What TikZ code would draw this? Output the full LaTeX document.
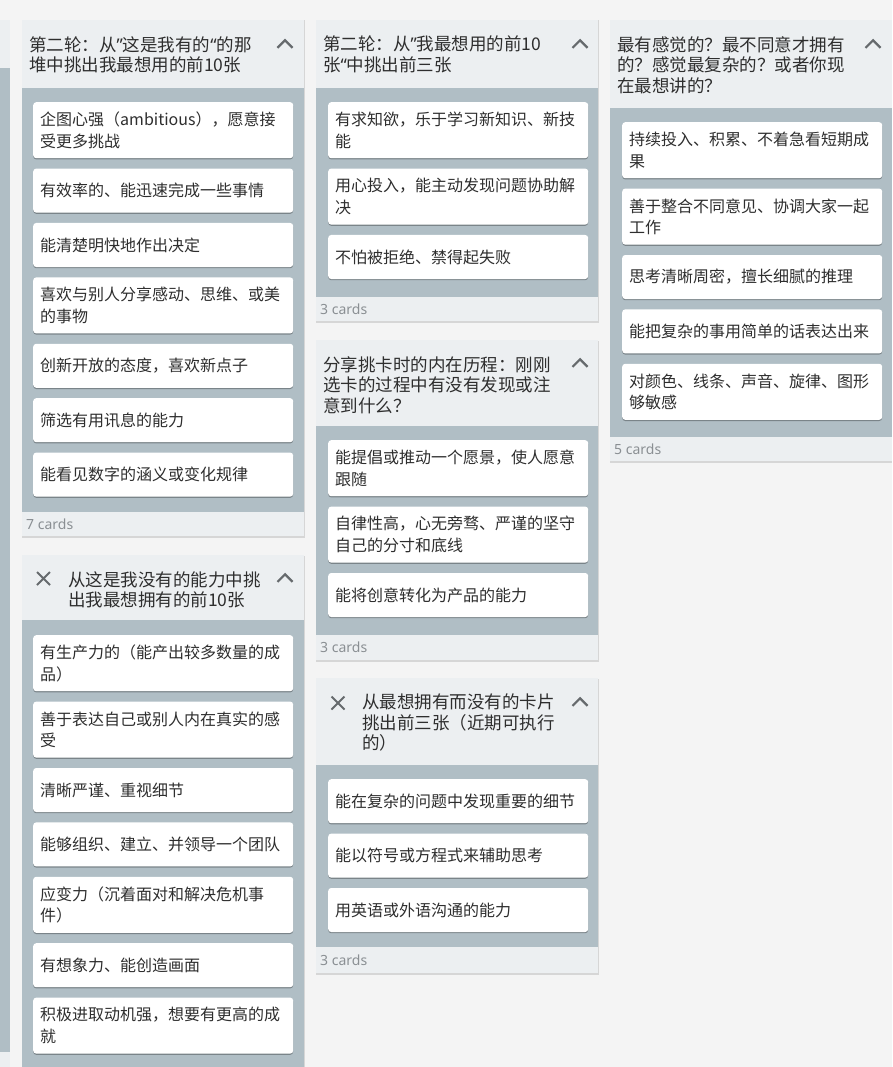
\documentclass[tikz,border=0pt]{standalone}
\usepackage{fontspec}
\setmainfont{Noto Sans CJK SC}
\newfontfamily\latin{Noto Sans}
\usetikzlibrary{positioning,shadows}
\definecolor{pagebg}{HTML}{F4F4F4}
\definecolor{headbg}{HTML}{ECEFF1}
\definecolor{bodybg}{HTML}{B0BEC5}
\definecolor{ink}{HTML}{2E2E2E}
\definecolor{mute}{HTML}{8A8F93}
\definecolor{icon}{HTML}{666A6D}

\begin{document}
\begin{tikzpicture}[x=1pt,y=-1pt,
	card/.style={fill=white,rounded corners=3pt,anchor=north west,text width=246pt,inner xsep=7pt,inner ysep=0pt,
		minimum height=44pt,align=left,font=\fontsize{16}{21.5}\selectfont,text=ink,
		drop shadow={shadow xshift=0pt,shadow yshift=-1.2pt,opacity=.3,fill=black}},
	cardii/.style={card,minimum height=56pt},
	title/.style={anchor=north west,inner sep=0pt,align=left,font=\fontsize{17.5}{20.5}\selectfont,text=ink},
	count/.style={anchor=west,inner sep=0pt,font=\latin\fontsize{14}{16}\selectfont,text=mute},
	chev/.style={draw=icon,line width=2.2pt},
	xmark/.style={draw=icon,line width=1.8pt}]
		\useasboundingbox (0,0) rectangle (892,1067);
		\fill[pagebg] (0,0) rectangle (892,1067);

		% columns
		\fill[headbg] (0,20) rectangle (10,68);
		\fill[bodybg] (0,68) rectangle (10,1052);
		\fill[headbg] (0,1052) rectangle (10,1067);

		\fill[black,opacity=.12] (21.5,20.5) rectangle (304.5,537.5);
		\fill[headbg] (22,20) rectangle (304,88);
		\fill[bodybg] (22,88) rectangle (304,512);
		\fill[headbg] (22,512) rectangle (304,536);

		\fill[black,opacity=.12] (21.5,555.5) rectangle (304.5,1067);
		\fill[headbg] (22,555) rectangle (304,620);
		\fill[bodybg] (22,620) rectangle (304,1067);

		\fill[black,opacity=.12] (315.5,20.5) rectangle (598.5,322.5);
		\fill[headbg] (316,20) rectangle (598,88);
		\fill[bodybg] (316,88) rectangle (598,297);
		\fill[headbg] (316,297) rectangle (598,321);

		\fill[black,opacity=.12] (315.5,340.5) rectangle (598.5,661.5);
		\fill[headbg] (316,340) rectangle (598,426);
		\fill[bodybg] (316,426) rectangle (598,635);
		\fill[headbg] (316,635) rectangle (598,660);

		\fill[black,opacity=.12] (315.5,678.5) rectangle (598.5,974.5);
		\fill[headbg] (316,678) rectangle (598,765);
		\fill[bodybg] (316,765) rectangle (598,947);
		\fill[headbg] (316,947) rectangle (598,973);

		\fill[black,opacity=.12] (609.5,20.5) rectangle (892,462.5);
		\fill[headbg] (610,20) rectangle (892,108);
		\fill[bodybg] (610,108) rectangle (892,437);
		\fill[headbg] (610,437) rectangle (892,461);

		% headers
		\node[title] (ta) at (29,36) {第二轮：从{\latin ”}这是我有的{\latin “}的那\\堆中挑出我最想用的前10张};
		\node[title] (tb) at (68,571) {从这是我没有的能力中挑\\出我最想拥有的前10张};
		\node[title] (tc) at (323,36) {第二轮：从{\latin ”}我最想用的前10\\张{\latin “}中挑出前三张};
		\node[title] (td) at (323,356) {分享挑卡时的内在历程：刚刚\\选卡的过程中有没有发现或注\\意到什么？};
		\node[title] (te) at (362,694) {从最想拥有而没有的卡片\\挑出前三张（近期可执行\\的）};
		\node[title] (tf) at (617,36) {最有感觉的？最不同意才拥有\\的？感觉最复杂的？或者你现\\在最想讲的？};

		\coordinate (ka) at (285,44);
		\coordinate (kb) at (285,578);
		\coordinate (kc) at (580,44);
		\coordinate (kd) at (580,363);
		\coordinate (ke) at (580,702);
		\coordinate (kf) at (873,44);
		\foreach \k in {ka,kb,kc,kd,ke,kf}
			\draw[chev] (\k) ++(-7.5,3.8) -- ++(7.5,-7.5) -- ++(7.5,7.5);

		\coordinate (xb) at (43.5,578.5);
		\coordinate (xe) at (338,703);
		\foreach \k in {xb,xe}
			\draw[xmark] (\k) ++(-6.5,-6.5) -- ++(13,13) (\k) ++(6.5,-6.5) -- ++(-13,13);

		% cards
		\node[cardii] (a1) at (33,102) {企图心强（ambitious），愿意接\\受更多挑战};
		\node[card] (a2) [below=10pt of a1] {有效率的、能迅速完成一些事情};
		\node[card] (a3) [below=10pt of a2] {能清楚明快地作出决定};
		\node[cardii] (a4) [below=10pt of a3] {喜欢与别人分享感动、思维、或美\\的事物};
		\node[card] (a5) [below=10pt of a4] {创新开放的态度，喜欢新点子};
		\node[card] (a6) [below=10pt of a5] {筛选有用讯息的能力};
		\node[card] (a7) [below=10pt of a6] {能看见数字的涵义或变化规律};

		\node[cardii] (b1) at (33,635) {有生产力的（能产出较多数量的成\\品）};
		\node[cardii] (b2) [below=10pt of b1] {善于表达自己或别人内在真实的感\\受};
		\node[card] (b3) [below=10pt of b2] {清晰严谨、重视细节};
		\node[card] (b4) [below=10pt of b3] {能够组织、建立、并领导一个团队};
		\node[cardii] (b5) [below=10pt of b4] {应变力（沉着面对和解决危机事\\件）};
		\node[card] (b6) [below=10pt of b5] {有想象力、能创造画面};
		\node[cardii] (b7) [below=10pt of b6] {积极进取动机强，想要有更高的成\\就};

		\node[cardii] (c1) at (328,102) {有求知欲，乐于学习新知识、新技\\能};
		\node[cardii] (c2) [below=10pt of c1] {用心投入，能主动发现问题协助解\\决};
		\node[card] (c3) [below=10pt of c2] {不怕被拒绝、禁得起失败};

		\node[cardii] (d1) at (328,440) {能提倡或推动一个愿景，使人愿意\\跟随};
		\node[cardii] (d2) [below=10pt of d1] {自律性高，心无旁骛、严谨的坚守\\自己的分寸和底线};
		\node[card] (d3) [below=10pt of d2] {能将创意转化为产品的能力};

		\node[card] (e1) at (328,779) {能在复杂的问题中发现重要的细节};
		\node[card] (e2) [below=10pt of e1] {能以符号或方程式来辅助思考};
		\node[card] (e3) [below=10pt of e2] {用英语或外语沟通的能力};

		\node[cardii] (f1) at (622,122) {持续投入、积累、不着急看短期成\\果};
		\node[cardii] (f2) [below=10pt of f1] {善于整合不同意见、协调大家一起\\工作};
		\node[card] (f3) [below=10pt of f2] {思考清晰周密，擅长细腻的推理};
		\node[card] (f4) [below=10pt of f3] {能把复杂的事用简单的话表达出来};
		\node[cardii] (f5) [below=10pt of f4] {对颜色、线条、声音、旋律、图形\\够敏感};

		% footers
		\node[count] (na) at (26,524) {7 cards};
		\node[count] (nc) at (320,309) {3 cards};
		\node[count] (nd) at (320,647.5) {3 cards};
		\node[count] (ne) at (320,960) {3 cards};
		\node[count] (nf) at (614,449) {5 cards};
\end{tikzpicture}
\end{document}
